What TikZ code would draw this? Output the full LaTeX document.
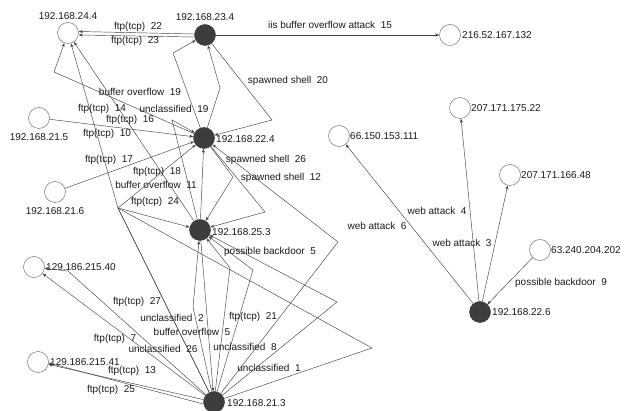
\documentclass[tikz,border=0pt]{standalone}
\usepackage{fontspec}
\setmainfont{Liberation Sans}
\usetikzlibrary{arrows.meta}
\begin{document}
\begin{tikzpicture}[x=1pt,y=-1pt,
  host/.style={circle,draw=black!55,line width=0.5pt,minimum size=21pt,inner sep=0pt,fill=white},
  atk/.style={host,fill=black!76,draw=black!76},
  edge/.style={draw=black!75,line width=0.45pt,-{Stealth[length=4pt,width=3pt]}},
  lbl/.style={font=\fontsize{10}{12}\selectfont,inner sep=0pt,text=black!90},
  ip/.style={font=\fontsize{10}{12}\selectfont,inner sep=0pt,text=black!90}]
\useasboundingbox (0,0) rectangle (634,411);
% hosts
\node[host] (A) at (68,33) {};
\node[atk]  (B) at (205,35) {};
\node[host] (C) at (450,35) {};
\node[host] (D) at (39,118) {};
\node[atk]  (E) at (204,138) {};
\node[host] (F) at (55,192) {};
\node[atk]  (G) at (200,230) {};
\node[host] (H) at (34,267) {};
\node[host] (I) at (38,362) {};
\node[atk]  (J) at (214,402) {};
\node[host] (K) at (339,136) {};
\node[host] (L) at (460,108) {};
\node[host] (M) at (510,175) {};
\node[host] (N) at (540,250) {};
\node[atk]  (O) at (480,312) {};
% host labels
\node[ip] (tA) at (68,16) {192.168.24.4};
\node[ip] (tB) at (205,17) {192.168.23.4};
\node[ip,anchor=west] (tC) at (462,35) {216.52.167.132};
\node[ip] (tD) at (39,137) {192.168.21.5};
\node[ip,anchor=west] (tE) at (216,139) {192.168.22.4};
\node[ip] (tF) at (55,211) {192.168.21.6};
\node[ip,anchor=west] (tG) at (212,232) {192.168.25.3};
\node[ip,anchor=west] (tH) at (46,267) {129.186.215.40};
\node[ip,anchor=west] (tI) at (50,362) {129.186.215.41};
\node[ip,anchor=west] (tJ) at (227,403) {192.168.21.3};
\node[ip,anchor=west] (tK) at (350,136) {66.150.153.111};
\node[ip,anchor=west] (tL) at (471,108) {207.171.175.22};
\node[ip,anchor=west] (tM) at (521,175) {207.171.166.48};
\node[ip,anchor=west] (tN) at (551,250) {63.240.204.202};
\node[ip,anchor=west] (tO) at (492,312) {192.168.22.6};
% bend points
\coordinate (b1) at (272,120);
\coordinate (b2) at (220,88);
\coordinate (b3) at (173,53);
\coordinate (b4) at (54,72);
\coordinate (b5) at (172,120);
\coordinate (b6) at (233,177);
\coordinate (b7) at (265,212);
\coordinate (b8) at (338,242);
\coordinate (b9) at (118,208);
\coordinate (b10) at (372,348);
\coordinate (b11) at (193,307);
\coordinate (b12) at (230,268);
\coordinate (b13) at (253,270);
\coordinate (b14) at (337,302);
\coordinate (b15) at (68,271);
% edges
\draw[edge] ([yshift=1pt]B.west) -- ([yshift=1.5pt]A.east);
\draw[edge] ([yshift=-2pt]B.west) -- ([yshift=-2pt]A.east);
\draw[edge] (B) -- (C);
\draw[edge] (B) -- (b1) -- (E);
\draw[edge] (E) -- (b2) -- (B);
\draw[edge] (E) -- (b3) -- (B);
\draw[edge] (E) -- (b4) -- (A);
\draw[edge] (G) -- (A);
\draw[edge] (D) -- (E);
\draw[edge] (F) -- (E);
\draw[edge] (G) -- (b5) -- (E);
\draw[edge] (G) -- (E);
\draw[edge] (E) -- (b6) -- (G);
\draw[edge] (E) -- (b7) -- (G);
\draw[edge] (J) -- (b8) -- (E);
\draw[edge] (J) -- (b9) -- (A);
\draw[edge] (J) -- (b9) -- (G);
\draw[edge] (J) -- (b10) -- (b9) -- (E);
\draw[edge] (J) -- (b11) -- (G);
\draw[edge] (G) -- (J);
\draw[edge] (J) -- (b12) -- (G);
\draw[edge] (J) -- (b13) -- (G);
\draw[edge] (J) -- (b14) -- (G);
\draw[edge] (J) -- (H);
\draw[edge] (J) -- (b15) -- (H);
\draw[edge] (J) -- (I);
\draw[edge] ([yshift=-2pt]J.west) -- ([yshift=-1pt]I.east);
\draw[edge] (O) -- (K);
\draw[edge] (O) -- (L);
\draw[edge] (O) -- (M);
\draw[edge] (N) -- (O);
% edge labels
\node[lbl] (l22) at (138,27) {ftp(tcp)~~22};
\node[lbl] (l23) at (135,41) {ftp(tcp)~~23};
\node[lbl] (l15) at (330,25) {iis buffer overflow attack~~15};
\node[lbl] (l20) at (288,81) {spawned shell~~20};
\node[lbl] (lbo19) at (140,92) {buffer overflow~~19};
\node[lbl] (l14) at (102,109) {ftp(tcp)~~14};
\node[lbl] (lu19) at (174,109) {unclassified~~19};
\node[lbl] (l16) at (130,120) {ftp(tcp)~~16};
\node[lbl] (l10) at (107,134) {ftp(tcp)~~10};
\node[lbl] (l17) at (109,160) {ftp(tcp)~~17};
\node[lbl] (l18) at (157,172) {ftp(tcp)~~18};
\node[lbl] (l11) at (156,185) {buffer overflow~~11};
\node[lbl] (l24) at (155,202) {ftp(tcp)~~24};
\node[lbl] (l26s) at (266,160) {spawned shell~~26};
\node[lbl] (l12) at (281,178) {spawned shell~~12};
\node[lbl] (lpb5) at (270,252) {possible backdoor~~5};
\node[lbl] (l27) at (137,302) {ftp(tcp)~~27};
\node[lbl] (lu2) at (172,318) {unclassified~~2};
\node[lbl] (l21) at (253,317) {ftp(tcp)~~21};
\node[lbl] (lbo5) at (192,332) {buffer overflow~~5};
\node[lbl] (l7) at (115,339) {ftp(tcp)~~7};
\node[lbl] (lu26) at (163,349) {unclassified~~26};
\node[lbl] (lu8) at (245,347) {unclassified~~8};
\node[lbl] (l13) at (132,371) {ftp(tcp)~~13};
\node[lbl] (lu1) at (269,368) {unclassified~~1};
\node[lbl] (l25) at (111,390) {ftp(tcp)~~25};
\node[lbl] (lw6) at (377,226) {web attack~~6};
\node[lbl] (lw4) at (437,211) {web attack~~4};
\node[lbl] (lw3) at (462,243) {web attack~~3};
\node[lbl] (lpb9) at (561,283) {possible backdoor~~9};
\end{tikzpicture}
\end{document}
